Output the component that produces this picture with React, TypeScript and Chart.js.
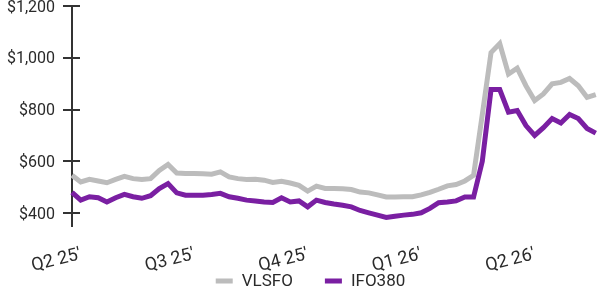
import React, { useEffect, useRef } from 'react';
import { Chart, registerables } from 'chart.js';

Chart.register(...registerables);

const quarterLabels = ["Q2 25'", "Q3 25'", "Q4 25'", "Q1 26'", "Q2 26'"];
const quarterIndex = [1, 14, 27, 40, 53];

const seriesNames = ['VLSFO', 'IFO380'];
const seriesColors = ['#bcbcbc', '#7a1fa2'];

const vlsfo = [
  546, 520, 530, 524, 517, 530, 542, 533, 530, 533,
  565, 588, 555, 553, 553, 552, 550, 559, 540, 533,
  530, 531, 527, 518, 523, 516, 507, 485, 504, 495,
  495, 494, 491, 481, 478, 470, 462, 462, 463, 463,
  470, 480, 492, 505, 510, 524, 546, 780, 1020, 1055,
  937, 960, 892, 835, 860, 899, 905, 920, 892, 847,
  858,
];

const ifo380 = [
  480, 450, 463, 459, 443, 459, 472, 463, 457, 467,
  495, 514, 478, 469, 469, 469, 472, 476, 463, 457,
  450, 447, 443, 441, 459, 443, 447, 424, 450, 441,
  435, 430, 424, 410, 401, 392, 383, 388, 392, 395,
  401, 418, 440, 443, 447, 462, 462, 600, 877, 877,
  790, 796, 738, 700, 730, 765, 748, 781, 765, 727,
  709,
];

const yMin = 350;
const yMax = 1200;
const yStep = 200;

const xLabels = vlsfo.map((_, i) => {
  const k = quarterIndex.indexOf(i);
  return k >= 0 ? quarterLabels[k] : '';
});

const FONT = 'Roboto';
const AXIS_COLOR = '#333333';
const TEXT_COLOR = '#2a2a2a';

const innerTicksPlugin = {
  id: 'innerTicks',
  afterDraw(chart: any) {
    const scale = chart.scales.y;
    const ctx = chart.ctx;
    const left = chart.chartArea.left;
    ctx.save();
    ctx.strokeStyle = AXIS_COLOR;
    ctx.lineWidth = 2;
    scale.ticks.forEach((t: any) => {
      const y = Math.round(scale.getPixelForValue(t.value));
      ctx.beginPath();
      ctx.moveTo(left, y);
      ctx.lineTo(left + 8, y);
      ctx.stroke();
    });
    ctx.restore();
  },
};

const customLegendPlugin = {
  id: 'customLegend',
  afterDraw(chart: any) {
    const ctx = chart.ctx;
    const boxW = 17;
    const boxH = 5;
    const gapText = 9;
    const gapItem = 32;
    ctx.save();
    ctx.font = `17px ${FONT}`;
    const widths = seriesNames.map((n) => ctx.measureText(n).width);
    const total = widths.reduce((a, w) => a + boxW + gapText + w, 0) + gapItem * (seriesNames.length - 1);
    let x = chart.width / 2 + 5 - total / 2;
    const cy = chart.height - 8;
    ctx.textBaseline = 'middle';
    ctx.textAlign = 'left';
    seriesNames.forEach((n, i) => {
      ctx.fillStyle = seriesColors[i];
      ctx.fillRect(x, cy - boxH / 2, boxW, boxH);
      x += boxW + gapText;
      ctx.fillStyle = TEXT_COLOR;
      ctx.fillText(n, x, cy + 1);
      x += widths[i] + gapItem;
    });
    ctx.restore();
  },
};

export default function App() {
  const canvasRef = useRef<HTMLCanvasElement | null>(null);

  useEffect(() => {
    document.body.style.margin = '0';
    const canvas = canvasRef.current;
    if (!canvas) return;
    const chart = new Chart(canvas, {
      type: 'line',
      data: {
        labels: xLabels,
        datasets: [
          {
            label: seriesNames[0],
            data: vlsfo,
            borderColor: seriesColors[0],
            backgroundColor: seriesColors[0],
            borderWidth: 5,
            pointRadius: 0,
            tension: 0,
            order: 1,
          },
          {
            label: seriesNames[1],
            data: ifo380,
            borderColor: seriesColors[1],
            backgroundColor: seriesColors[1],
            borderWidth: 5,
            pointRadius: 0,
            tension: 0,
            order: 0,
          },
        ],
      },
      options: {
        animation: false,
        responsive: true,
        maintainAspectRatio: false,
        layout: { padding: { left: 4, right: 3, top: 0, bottom: 8 } },
        plugins: {
          legend: { display: false },
          tooltip: { enabled: false },
        },
        scales: {
          x: {
            type: 'category',
            offset: false,
            grid: { display: false },
            border: { display: false },
            afterFit: (scale: any) => {
              scale.height = 55;
            },
            ticks: {
              autoSkip: false,
              minRotation: 14,
              maxRotation: 14,
              color: TEXT_COLOR,
              font: { family: FONT, size: 18 },
              padding: 10,
            },
          },
          y: {
            min: yMin,
            max: yMax,
            afterFit: (scale: any) => {
              scale.width = 68;
              scale.paddingTop = 6;
            },
            grid: {
              drawOnChartArea: false,
              drawTicks: true,
              tickLength: 9,
              color: AXIS_COLOR,
              lineWidth: 2,
            },
            border: { display: true, color: AXIS_COLOR, width: 2 },
            ticks: {
              stepSize: yStep,
              includeBounds: false,
              color: TEXT_COLOR,
              font: { family: FONT, size: 16 },
              padding: 8,
              labelOffset: 1.5,
              callback: (v: any) => '$' + Number(v).toLocaleString('en-US'),
            },
          },
        },
      },
      plugins: [innerTicksPlugin, customLegendPlugin],
    });
    return () => chart.destroy();
  }, []);

  return (
    <div style={{ position: 'absolute', left: 0, top: 0, width: 611, height: 289 }}>
      <canvas ref={canvasRef} />
    </div>
  );
}
